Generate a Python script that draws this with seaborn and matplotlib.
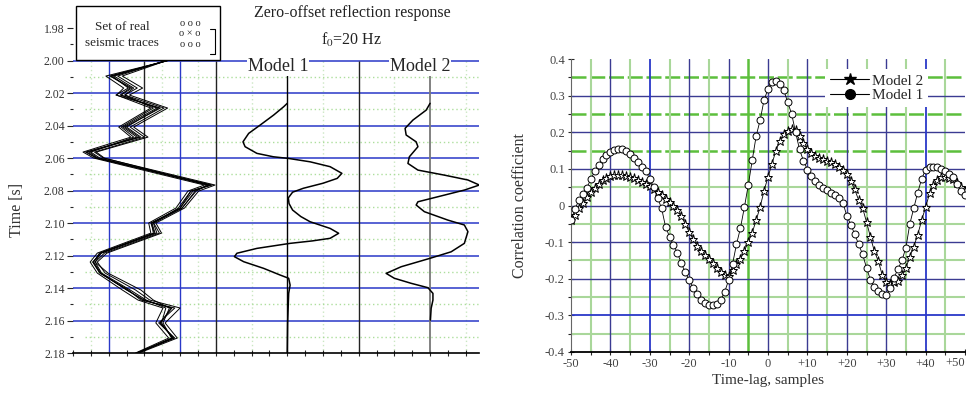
import numpy as np
import pandas as pd
import matplotlib
matplotlib.use('Agg')
import matplotlib.pyplot as plt
import seaborn as sns
from matplotlib.lines import Line2D
from matplotlib.patches import Rectangle
from matplotlib.ticker import FuncFormatter

# ---------------- data: left panel ----------------
# time samples (s) for the recorded traces
trace_time = [2.000, 2.0095, 2.0169, 2.0212, 2.0292, 2.0409, 2.0471, 2.0563, 2.0600,
              2.0766, 2.0803, 2.0908, 2.1000, 2.1062, 2.1185, 2.1240, 2.1308, 2.1412,
              2.1474, 2.1523, 2.1615, 2.1708, 2.1800]
# set of real seismic traces (horizontal position in panel units)
real_traces = [
    [2.63, 1.04, 1.60, 1.32, 2.35, 1.40, 1.79, 0.39, 0.67, 3.84, 3.36, 3.00, 2.21, 2.30, 0.76, 0.56, 0.76, 1.51, 1.96, 2.77, 2.44, 2.80, 1.79],
    [2.60, 1.25, 1.80, 1.45, 2.55, 1.60, 2.00, 0.60, 0.85, 3.98, 3.52, 3.12, 2.32, 2.48, 0.95, 0.68, 0.90, 1.75, 2.15, 3.00, 2.58, 2.92, 1.85],
    [2.65, 0.92, 1.42, 1.22, 2.18, 1.28, 1.62, 0.28, 0.58, 3.68, 3.22, 2.88, 2.12, 2.18, 0.68, 0.48, 0.68, 1.38, 1.82, 2.52, 2.32, 2.68, 1.75],
    [2.62, 1.38, 1.95, 1.58, 2.65, 1.70, 2.10, 0.65, 0.88, 3.80, 3.42, 3.06, 2.26, 2.42, 0.88, 0.62, 0.98, 1.90, 2.25, 2.70, 2.52, 2.76, 1.80],
    [2.64, 1.10, 1.55, 1.20, 2.45, 1.45, 1.85, 0.45, 0.70, 3.90, 3.30, 2.95, 2.25, 2.35, 0.80, 0.55, 0.75, 1.55, 1.90, 2.85, 2.40, 2.85, 1.78],
    [2.61, 1.15, 1.70, 1.45, 2.25, 1.35, 1.70, 0.50, 0.75, 3.75, 3.45, 3.05, 2.20, 2.25, 0.78, 0.62, 0.80, 1.60, 2.05, 2.60, 2.48, 2.78, 1.82],
    [2.66, 1.05, 1.65, 1.35, 2.40, 1.50, 1.90, 0.35, 0.65, 3.85, 3.30, 3.00, 2.18, 2.28, 0.74, 0.58, 0.78, 1.50, 2.00, 2.75, 2.45, 2.82, 1.80],
]

# synthetic traces (amplitude relative to baseline)
model1_time = [2.0263, 2.0284, 2.0335, 2.0397, 2.0448, 2.0500, 2.0530, 2.0571, 2.0592, 2.0602,
               2.0623, 2.0653, 2.0694, 2.0725, 2.0755, 2.0786, 2.0810, 2.0845, 2.0880, 2.0920,
               2.0960, 2.0992, 2.1033, 2.1063, 2.1094, 2.1110, 2.1125, 2.1156, 2.1186, 2.1207,
               2.1238, 2.1279, 2.1320, 2.1340, 2.1382, 2.1433, 2.1617, 2.1800]
model1_amp = [0.00, -0.10, -0.38, -0.76, -1.08, -1.24, -1.18, -0.85, -0.39, 0.03,
              0.64, 1.20, 1.53, 1.40, 1.00, 0.45, 0.15, 0.03, 0.05, 0.15,
              0.38, 0.64, 1.20, 1.44, 1.20, 0.70, 0.08, -0.85, -1.41, -1.48,
              -1.22, -0.66, -0.20, 0.04, 0.08, 0.04, 0.01, 0.00]

model2_time = [2.0263, 2.0305, 2.0366, 2.0417, 2.0458, 2.0500, 2.0530, 2.0592, 2.0633, 2.0674,
               2.0705, 2.0735, 2.0766, 2.0797, 2.0838, 2.0869, 2.0889, 2.0930, 2.0982, 2.1012,
               2.1053, 2.1125, 2.1177, 2.1217, 2.1269, 2.1310, 2.1340, 2.1371, 2.1398, 2.1433,
               2.1474, 2.1525, 2.1597]
model2_amp = [0.00, -0.11, -0.48, -0.70, -0.67, -0.39, -0.34, -0.58, -0.62, -0.34,
              0.40, 1.06, 1.38, 0.96, 0.22, -0.34, -0.39, -0.16, 0.50, 0.96,
              1.06, 0.96, 0.59, 0.00, -0.81, -1.23, -1.00, -0.53, -0.06, 0.08,
              0.08, 0.03, 0.01]

# ---------------- data: right panel ----------------
lags = list(range(-50, 51))
corr_model1 = [-0.040, -0.010, 0.015, 0.032, 0.048, 0.071, 0.093, 0.110, 0.127, 0.139,
               0.147, 0.152, 0.155, 0.153, 0.149, 0.141, 0.130, 0.118, 0.106, 0.093,
               0.073, 0.050, 0.020, -0.008, -0.058, -0.085, -0.108, -0.129, -0.158, -0.182,
               -0.204, -0.225, -0.242, -0.258, -0.267, -0.273, -0.273, -0.268, -0.258, -0.236,
               -0.204, -0.160, -0.106, -0.062, -0.005, 0.056, 0.124, 0.190, 0.233, 0.288,
               0.318, 0.337, 0.340, 0.333, 0.315, 0.282, 0.250, 0.200, 0.153, 0.122,
               0.098, 0.080, 0.066, 0.057, 0.048, 0.041, 0.035, 0.028, 0.020, 0.008,
               -0.028, -0.052, -0.078, -0.106, -0.133, -0.170, -0.203, -0.222, -0.233, -0.242,
               -0.244, -0.226, -0.197, -0.173, -0.150, -0.115, -0.050, -0.007, 0.035, 0.073,
               0.097, 0.104, 0.106, 0.104, 0.099, 0.094, 0.085, 0.077, 0.060, 0.040,
               0.028]
corr_model2 = [-0.040, -0.025, -0.008, 0.008, 0.022, 0.036, 0.047, 0.058, 0.069, 0.076,
               0.080, 0.083, 0.083, 0.082, 0.080, 0.078, 0.074, 0.069, 0.064, 0.058,
               0.052, 0.045, 0.037, 0.028, 0.019, 0.010, 0.000, -0.012, -0.030, -0.050,
               -0.073, -0.092, -0.110, -0.124, -0.136, -0.147, -0.158, -0.172, -0.182, -0.190,
               -0.192, -0.176, -0.161, -0.146, -0.124, -0.099, -0.074, -0.040, -0.004, 0.040,
               0.078, 0.113, 0.150, 0.176, 0.195, 0.203, 0.208, 0.205, 0.190, 0.172,
               0.155, 0.144, 0.135, 0.130, 0.126, 0.122, 0.118, 0.112, 0.106, 0.098,
               0.087, 0.066, 0.044, 0.015, -0.006, -0.045, -0.086, -0.125, -0.152, -0.190,
               -0.210, -0.214, -0.210, -0.205, -0.190, -0.170, -0.140, -0.112, -0.080, -0.040,
               -0.005, 0.033, 0.055, 0.070, 0.078, 0.079, 0.076, 0.071, 0.062, 0.051,
               0.040]

# ---------------- style ----------------
sns.set_style('white')
plt.rcParams['font.family'] = ['Liberation Serif', 'DejaVu Serif']
plt.rcParams['mathtext.fontset'] = 'stix'

NAVY = '#3b3b92'
BLUE = '#2a38c8'
GREEN = '#5cbf3c'
LGREEN = '#a9d79a'

fig = plt.figure(figsize=(9.66, 3.94), dpi=100)
ax1 = fig.add_axes([73/966, 1-353/394, 406/966, 333/394])
ax2 = fig.add_axes([571/966, 1-352/394, 394/966, 293/394])

# ================= left panel =================
ax1.set_xlim(0, 11.37)
ax1.set_ylim(2.18, 1.975)

for t in np.arange(2.01, 2.175, 0.02):
    ax1.axhline(t, xmin=0.03, color=GREEN, lw=1.0, ls=(0, (1, 2)), alpha=0.5, zorder=1)
for xv in [0.5, 2.5, 3.5, 5, 7, 9, 11]:
    ax1.vlines(xv, 2.0, 2.18, color=LGREEN, lw=1.0, ls=(0, (1, 2)), alpha=0.6, zorder=1)
for t in np.arange(2.00, 2.165, 0.02):
    ax1.axhline(t, color=BLUE, lw=1.1, zorder=2)
for xv in [1, 3]:
    ax1.vlines(xv, 2.0, 2.18, color=BLUE, lw=1.0, zorder=2)
for xv in [2, 4, 8]:
    ax1.vlines(xv, 2.0, 2.18, color='#222222', lw=1.0, zorder=2)
ax1.vlines(6, 2.004, 2.18, color='black', lw=1.0, zorder=2)
ax1.vlines(10, 2.004, 2.18, color='#777777', lw=1.3, zorder=2)

for tr in real_traces:
    sns.lineplot(x=tr, y=trace_time, sort=False, estimator=None, color='black',
                 lw=0.7, ax=ax1, zorder=4)
sns.lineplot(x=[6 + a for a in model1_amp], y=model1_time, sort=False, estimator=None,
             color='black', lw=1.1, ax=ax1, zorder=4)
sns.lineplot(x=[10 + a for a in model2_amp], y=model2_time, sort=False, estimator=None,
             color='black', lw=1.1, ax=ax1, zorder=4)

ax1.text(5.74, 2.0035, 'Model 1', ha='center', va='center', fontsize=13, zorder=5,
         bbox=dict(facecolor='white', edgecolor='none', pad=0.5))
ax1.text(9.72, 2.0035, 'Model 2', ha='center', va='center', fontsize=13, zorder=5,
         bbox=dict(facecolor='white', edgecolor='none', pad=0.5))

ax1.set_yticks(np.round(np.arange(1.98, 2.181, 0.02), 2))
ax1.set_yticks(np.round(np.arange(1.99, 2.18, 0.02), 2), minor=True)
ax1.yaxis.set_major_formatter(FuncFormatter(lambda v, p: f'{v:.2f}'))
ax1.set_xticks(np.arange(0, 11.5, 1))
ax1.set_xticks(np.arange(0.5, 11.5, 1), minor=True)
ax1.set_xticklabels([])
ax1.tick_params(axis='y', which='major', direction='out', length=4, width=0.8,
                labelsize=8.5, labelcolor='#333333', pad=2, left=True)
ax1.tick_params(axis='y', which='minor', direction='out', length=2.5, width=0.8, left=True)
ax1.tick_params(axis='x', which='both', direction='inout', length=5, width=0.8, bottom=True)
for s in ['top', 'right', 'left']:
    ax1.spines[s].set_visible(False)
ax1.spines['bottom'].set_color('black')
ax1.spines['bottom'].set_linewidth(1.2)
ax1.set_xlabel('')
ax1.set_ylabel('Time [s]', fontsize=11.5, color='#333333')
ax1.yaxis.set_label_coords(-0.118, 0.43)

# legend-like box of the left panel
fig.patches.append(Rectangle((76/966, 1-60/394), 144/966, 54/394, transform=fig.transFigure,
                             fill=False, edgecolor='black', lw=1.0))
fig.text(122/966, 1-27/394, 'Set of real', ha='center', va='center', fontsize=9.5)
fig.text(122/966, 1-43/394, 'seismic traces', ha='center', va='center', fontsize=9.5)
fig.text(190/966, 1-34/394, 'o o o\no \u00d7 o\no o o', ha='center', va='center',
         fontsize=7.5, linespacing=1.25)
fig.add_artist(Line2D([210/966, 215/966, 215/966, 210/966],
                      [1-29/394, 1-29/394, 1-54/394, 1-54/394],
                      transform=fig.transFigure, color='black', lw=0.8))

fig.text(352/966, 1-13/394, 'Zero-offset reflection response', ha='center', va='center',
         fontsize=11.5, color='#222222')
fig.text(352/966, 1-40/394, r'f$_0$=20 Hz', ha='center', va='center',
         fontsize=11.5, color='#222222')

# ================= right panel =================
ax2.set_xlim(-50, 50)
ax2.set_ylim(-0.4, 0.4)

for yv in [0.35, 0.25, 0.15]:
    ax2.axhline(yv, color=GREEN, lw=1.8, ls=(0, (6, 1.5)), zorder=1)
for yv in [0.05, -0.05, -0.15, -0.25, -0.35]:
    ax2.axhline(yv, color=LGREEN, lw=1.5, zorder=1)
for xv in [-45, -35, -25, -15, 5, 15, 25, 35, 45]:
    ax2.axvline(xv, color=LGREEN, lw=1.5, zorder=1)
ax2.axvline(-5, color=GREEN, lw=1.8, zorder=1)
for yv in [0.3, 0.2, 0.1, 0.0, -0.1, -0.2]:
    ax2.axhline(yv, color=NAVY, lw=1.0, zorder=2)
ax2.axhline(-0.3, color=BLUE, lw=1.3, zorder=2)
for xv in [-40, -20, -10, 0, 10, 20, 30]:
    ax2.axvline(xv, color=NAVY, lw=1.0, zorder=2)
for xv in [-30, 40]:
    ax2.axvline(xv, color=BLUE, lw=1.3, zorder=2)

sns.lineplot(x=lags, y=corr_model2, color='black', lw=0.6, marker='*', markersize=6.5,
             markerfacecolor='white', markeredgecolor='black', markeredgewidth=0.7,
             ax=ax2, zorder=5)
sns.lineplot(x=lags, y=corr_model1, color='black', lw=0.6, marker='o', markersize=5,
             markerfacecolor='white', markeredgecolor='black', markeredgewidth=0.7,
             ax=ax2, zorder=6)

handles = [Line2D([], [], color='black', marker='*', markersize=9, lw=0.8, label='Model 2'),
           Line2D([], [], color='black', marker='o', markersize=7, lw=0.8, label='Model 1')]
ax2.legend(handles=handles, loc='upper left', bbox_to_anchor=(0.645, 0.965), frameon=True,
           facecolor='white', edgecolor='none', framealpha=1, fancybox=False, fontsize=11,
           handlelength=2.6, handletextpad=0.15, labelspacing=0.05, borderpad=0.3,
           borderaxespad=0)


def lag_label(v, p):
    if abs(v) < 1e-9:
        return '0'
    if v >= 49.5:
        return ''
    return f'+{v:.0f}' if v > 0 else f'{v:.0f}'


ax2.set_yticks(np.round(np.arange(-0.4, 0.41, 0.1), 2))
ax2.set_yticks(np.round(np.arange(-0.35, 0.4, 0.1), 2), minor=True)
ax2.set_xticks(np.arange(-50, 51, 10))
ax2.set_xticks(np.arange(-45, 50, 10), minor=True)
ax2.yaxis.set_major_formatter(FuncFormatter(lambda v, p: '0' if abs(v) < 1e-9 else f'{v:.1f}'))
ax2.xaxis.set_major_formatter(FuncFormatter(lag_label))
ax2.tick_params(axis='both', which='both', direction='inout', length=5, width=0.8,
                labelsize=9, labelcolor='#444444', pad=2, left=True, bottom=True)
# last tick label sits at the figure edge: keep it inside
ax2.text(1.0, -0.016, '+50', transform=ax2.transAxes, ha='right', va='top',
         fontsize=9, color='#444444')
for s in ['top', 'right']:
    ax2.spines[s].set_visible(False)
ax2.spines['left'].set_color('#666666')
ax2.spines['bottom'].set_color('black')
ax2.spines['bottom'].set_linewidth(1.3)
ax2.set_xlabel('Time-lag, samples', fontsize=11, color='#333333')
ax2.set_ylabel('Correlation coefficient', fontsize=11.5, color='#333333')
ax2.yaxis.set_label_coords(-0.108, 0.5)
ax2.xaxis.set_label_coords(0.5, -0.075)

fig.savefig('out.png', dpi=100)
